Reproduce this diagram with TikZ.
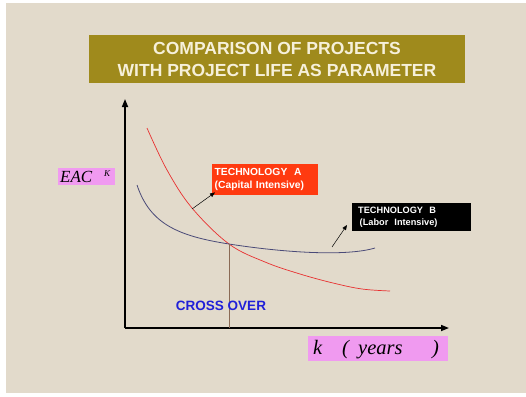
\documentclass[tikz,border=0pt]{standalone}
\usepackage{fontspec}
\setmainfont{Liberation Serif}
\setsansfont{Liberation Sans}
\usetikzlibrary{arrows.meta}
\definecolor{paper}{HTML}{E2DACB}
\definecolor{olive}{HTML}{9F8A1C}
\definecolor{cream}{HTML}{F6F0DA}
\definecolor{pinkbox}{HTML}{F09AF0}
\definecolor{techred}{HTML}{FF3A10}
\definecolor{curvea}{HTML}{E83030}
\definecolor{curveb}{HTML}{4A4A78}
\definecolor{dropline}{HTML}{8A6A55}
\definecolor{crossblue}{HTML}{2020D8}
\tikzset{
  titlebox/.style={fill=olive, text=cream, font=\sffamily\bfseries\fontsize{17.5}{22}\selectfont, align=center, minimum width=376pt, minimum height=48pt, inner sep=0pt},
  labelbox/.style={fill=pinkbox, inner sep=0pt, anchor=north west},
  techbox/.style={text=white, align=left, inner sep=0pt, anchor=north west},
  axislabel/.style={anchor=base west, inner sep=0pt},
  axis/.style={line width=1.6pt, -{Triangle[length=8pt,width=6pt]}},
  pointer/.style={line width=0.5pt, -{Triangle[length=5pt,width=4pt]}},
}
\begin{document}
\begin{tikzpicture}[x=1pt,y=-1pt]
  % page and paper background
  \useasboundingbox (0,0) rectangle (526,396);
  \fill[white] (0,0) rectangle (526,396);
  \fill[paper] (6,3) rectangle (526,393);

  % heading
  \node[titlebox] (title) at (277,59) {COMPARISON OF PROJECTS\\WITH PROJECT LIFE AS PARAMETER};

  % axes
  \coordinate (origin) at (125,328);
  \coordinate (ytop) at (125,99);
  \coordinate (xend) at (449,328);
  \draw[axis] (origin) -- (ytop);
  \draw[axis] (origin) -- (xend);

  % axis labels
  \node[labelbox, minimum width=57pt, minimum height=17pt] (ylab) at (58,168) {};
  \node[axislabel, font=\itshape\fontsize{17}{17}\selectfont] (eac) at (60,182.5) {EAC};
  \node[axislabel, font=\itshape\fontsize{9}{9}\selectfont] (supk) at (104,176) {K};

  \node[labelbox, minimum width=140pt, minimum height=25pt] (xlab) at (308,336) {};
  \node[axislabel, font=\itshape\fontsize{20.5}{20.5}\selectfont] (kk) at (313,354.5) {k};
  \node[axislabel, font=\itshape\fontsize{20.5}{20.5}\selectfont] (lp) at (342,354.5) {(};
  \node[axislabel, font=\itshape\fontsize{20.5}{20.5}\selectfont] (yrs) at (358,354.5) {years};
  \node[axislabel, font=\itshape\fontsize{20.5}{20.5}\selectfont] (rp) at (432,354.5) {)};

  % cost curves
  \coordinate (cross) at (229,244);
  \draw[curvea, line width=0.7pt] plot[smooth, tension=0.6] coordinates
    {(147,128) (167,170) (192,208) (229,244) (265,262) (300,274) (333,283) (362,289) (390,291)};
  \draw[curveb, line width=0.8pt] (137,185) .. controls (150,224) and (178,236) .. (cross)
    .. controls (280,252) and (345,257) .. (375,248);

  % cross-over drop line
  \coordinate (cfoot) at (229,328);
  \draw[dropline, line width=0.6pt] (cross) -- (cfoot);
  \node[font=\sffamily\bfseries\fontsize{13.5}{14}\selectfont, text=crossblue, inner sep=0pt] (crossover) at (221,306) {CROSS OVER};

  % technology labels
  \node[techbox, fill=techred, font=\sffamily\bfseries\fontsize{10.3}{12.5}\selectfont,
        minimum width=105pt, minimum height=31pt, text width=101pt, inner xsep=2.5pt] (techA) at (212,164)
    {TECHNOLOGY~~A\\(Capital Intensive)};
  \node[techbox, fill=black, font=\sffamily\bfseries\fontsize{9.2}{11.5}\selectfont,
        minimum width=114pt, minimum height=28pt, text width=107pt, inner xsep=6pt] (techB) at (352,203)
    {TECHNOLOGY~~B\\\,(Labor~ Intensive)};

  % pointers from curves to labels
  \coordinate (onA) at (192,209);
  \coordinate (onB) at (332,247);
  \draw[pointer] (onA) -- ([shift={(3pt,3pt)}]techA.south west);
  \draw[pointer] (onB) -- (347,225);
\end{tikzpicture}
\end{document}
